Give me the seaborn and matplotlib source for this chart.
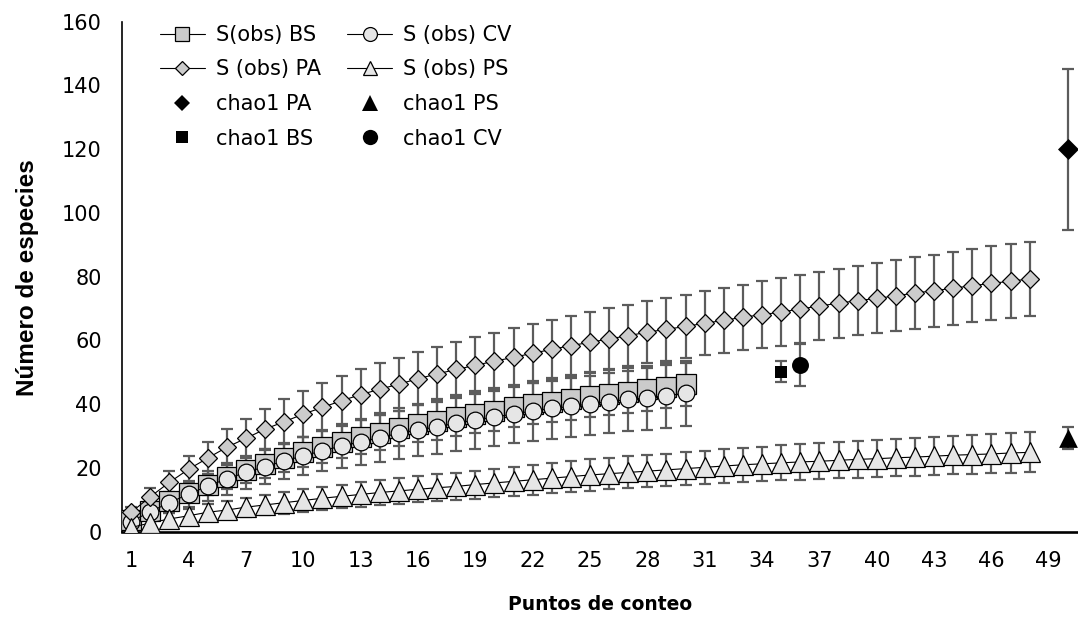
import matplotlib
matplotlib.use("Agg")
import matplotlib.pyplot as plt
import seaborn as sns
from matplotlib.lines import Line2D

# ---------------- data ----------------
puntos_48 = list(range(1, 49))
puntos_30 = list(range(1, 31))

s_obs_pa = [6.1, 11.0, 15.5, 19.6, 23.1, 26.5, 29.3, 32.2, 34.5, 36.9,
            39.0, 41.1, 43.0, 44.7, 46.3, 48.0, 49.5, 50.9, 52.2, 53.5,
            54.7, 56.0, 57.2, 58.4, 59.4, 60.5, 61.5, 62.6, 63.5, 64.4,
            65.4, 66.3, 67.3, 68.1, 68.9, 69.9, 70.8, 71.7, 72.5, 73.2,
            74.0, 74.9, 75.6, 76.4, 77.2, 77.9, 78.6, 79.3]
sd_pa = [1.7, 2.8, 3.6, 4.2, 5.1, 5.6, 6.2, 6.4, 7.0, 7.2,
         7.5, 7.7, 8.0, 8.1, 8.3, 8.3, 8.4, 8.6, 8.8, 8.9,
         9.1, 9.2, 9.2, 9.3, 9.4, 9.6, 9.6, 9.8, 9.8, 10.0,
         10.1, 10.2, 10.2, 10.4, 10.6, 10.6, 10.7, 10.8, 10.9, 11.0,
         11.1, 11.2, 11.3, 11.4, 11.5, 11.6, 11.6, 11.7]

s_obs_ps = [1.3, 2.8, 4.0, 5.0, 6.1, 6.8, 7.7, 8.4, 9.1, 9.8,
            10.5, 11.1, 11.7, 12.3, 12.8, 13.3, 13.8, 14.2, 14.8, 15.3,
            15.8, 16.3, 16.8, 17.3, 17.8, 18.2, 18.6, 19.0, 19.4, 19.8,
            20.2, 20.6, 21.0, 21.3, 21.6, 21.9, 22.1, 22.4, 22.7, 22.9,
            23.2, 23.4, 23.7, 24.0, 24.2, 24.4, 24.7, 24.9]
sd_ps = [0.8, 1.4, 1.8, 2.2, 2.5, 2.8, 3.0, 3.2, 3.4, 3.5,
         3.6, 3.7, 3.8, 3.9, 4.0, 4.1, 4.2, 4.3, 4.4, 4.5,
         4.6, 4.7, 4.8, 4.8, 4.9, 4.9, 5.0, 5.0, 5.1, 5.1,
         5.2, 5.2, 5.3, 5.4, 5.5, 5.6, 5.6, 5.7, 5.7, 5.8,
         5.8, 5.9, 6.0, 6.0, 6.1, 6.1, 6.2, 6.3]

s_obs_bs = [3.8, 6.5, 9.5, 12.2, 14.7, 17.2, 19.4, 21.2, 23.1, 25.0,
            26.7, 28.1, 29.7, 31.1, 32.4, 33.8, 34.8, 36.0, 37.0, 37.9,
            39.1, 40.1, 40.8, 41.7, 42.5, 43.3, 43.9, 44.7, 45.5, 46.2]
sd_bs = [1.0, 1.8, 2.4, 2.9, 3.3, 3.7, 4.0, 4.3, 4.5, 4.8,
         5.0, 5.1, 5.3, 5.5, 5.6, 5.8, 5.9, 6.0, 6.1, 6.2,
         6.3, 6.4, 6.4, 6.5, 6.5, 6.6, 6.6, 6.7, 6.7, 6.8]

s_obs_cv = [3.2, 6.3, 9.1, 11.8, 14.3, 16.6, 18.6, 20.4, 22.2, 23.8,
            25.4, 26.9, 28.2, 29.5, 30.9, 31.9, 32.9, 34.1, 35.0, 36.0,
            36.9, 37.9, 38.7, 39.3, 40.1, 40.8, 41.5, 42.0, 42.7, 43.4]
sd_cv = [1.3, 2.4, 3.3, 4.0, 4.6, 5.0, 5.3, 5.4, 5.7, 6.0,
         6.4, 6.8, 7.2, 7.6, 8.0, 8.3, 8.6, 8.8, 9.0, 9.1,
         9.2, 9.4, 9.5, 9.6, 9.7, 9.8, 9.9, 10.0, 10.1, 10.3]

chao1_labels = ["chao1 PA", "chao1 PS", "chao1 BS", "chao1 CV"]
chao1_x = [50, 50, 35, 36]
chao1_y = [120.0, 29.3, 50.2, 52.3]
chao1_sd = [25.3, 3.4, 3.2, 6.7]

x_tick_labels = [str(v) for v in range(1, 50, 3)]
y_ticks = [0, 20, 40, 60, 80, 100, 120, 140, 160]

# ---------------- style ----------------
sns.set_style("white")
plt.rcParams["font.family"] = ["DejaVu Sans"]
plt.rcParams["text.color"] = "black"
plt.rcParams["axes.labelcolor"] = "black"
plt.rcParams["xtick.color"] = "black"
plt.rcParams["ytick.color"] = "black"

fig = plt.figure(figsize=(10.78, 6.21), dpi=100)
ax = fig.add_axes([0.1129, 0.1438, 0.8866, 0.8212])

ECOL = "#5c5c5c"
eb_kw = dict(fmt="none", ecolor=ECOL, elinewidth=1.6, capsize=4.6,
             capthick=1.6, zorder=1.5)

# error bars
ax.errorbar(puntos_30, s_obs_bs, yerr=sd_bs, **eb_kw)
ax.errorbar(puntos_30, s_obs_cv, yerr=sd_cv, **eb_kw)
ax.errorbar(puntos_48, s_obs_pa, yerr=sd_pa, **eb_kw)
ax.errorbar(puntos_48, s_obs_ps, yerr=sd_ps, **eb_kw)
ax.errorbar(chao1_x, chao1_y, yerr=chao1_sd, **eb_kw)

# observed curves
line_kw = dict(color="black", linewidth=0.8, markeredgecolor="black",
               markeredgewidth=0.9, errorbar=None, legend=False)
sns.lineplot(x=puntos_30, y=s_obs_bs, ax=ax, marker="s", markersize=14,
             markerfacecolor="#cbcbcb", zorder=3, **line_kw)
sns.lineplot(x=puntos_30, y=s_obs_cv, ax=ax, marker="o", markersize=12,
             markerfacecolor="#e6e6e6", zorder=4, **line_kw)
sns.lineplot(x=puntos_48, y=s_obs_pa, ax=ax, marker="D", markersize=9,
             markerfacecolor="#cccccc", zorder=5, **line_kw)
sns.lineplot(x=puntos_48, y=s_obs_ps, ax=ax, marker="^", markersize=14,
             markerfacecolor="#e6e6e6", zorder=6, **line_kw)

# chao1 estimates
chao_markers = ["D", "^", "s", "o"]
chao_sizes = [10.7, 13.5, 8.6, 12.2]
for xv, yv, mk, ms in zip(chao1_x, chao1_y, chao_markers, chao_sizes):
    sns.scatterplot(x=[xv], y=[yv], ax=ax, marker=mk, s=ms ** 2,
                    color="black", edgecolor="black", linewidth=0,
                    zorder=7, legend=False)

# ---------------- axes ----------------
ax.set_xlim(0.5, 50.5)
ax.set_ylim(0, 160)
ax.set_yticks(y_ticks)
ax.set_yticklabels([str(v) for v in y_ticks])
ax.set_xticks([0.5 + 3 * i for i in range(17)])
ax.set_xticklabels([])
ax.set_xticks(list(range(1, 50, 3)), minor=True)
ax.set_xticklabels(x_tick_labels, minor=True)

for s in ["top", "right"]:
    ax.spines[s].set_visible(False)
ax.spines["left"].set_linewidth(1.2)
ax.spines["left"].set_color("black")
ax.spines["bottom"].set_linewidth(1.9)
ax.spines["bottom"].set_color("black")

ax.tick_params(axis="y", which="major", direction="inout", length=11.5,
               width=1.1, color="black", labelsize=15, pad=8.6,
               labelcolor="black")
ax.tick_params(axis="x", which="major", direction="inout", length=11.5,
               width=1.1, color="black")
ax.tick_params(axis="x", which="minor", length=0, labelsize=15, pad=14,
               labelcolor="black")

ax.set_xlabel("Puntos de conteo", fontsize=13.5, fontweight="bold",
              va="center", color="black")
ax.xaxis.set_label_coords(0.5, -0.1437)
ax.set_ylabel("Número de especies", fontsize=17.5, fontweight="bold",
              family=["Liberation Sans", "DejaVu Sans"], va="center",
              color="black")
ax.yaxis.set_label_coords(-0.0986, 0.498)

# ---------------- legend ----------------
def obs_handle(mk, ms, fc):
    return Line2D([], [], color="black", lw=0.8, marker=mk, ms=ms,
                  mfc=fc, mec="black", mew=0.9)

def chao_handle(mk, ms):
    return Line2D([], [], color="none", lw=0, marker=mk, ms=ms,
                  mfc="black", mec="black", mew=0)

handles = [obs_handle("s", 10, "#cbcbcb"), obs_handle("D", 7.5, "#cccccc"),
           chao_handle("D", 7.7), chao_handle("s", 8),
           obs_handle("o", 10, "#e6e6e6"), obs_handle("^", 10.5, "#e6e6e6"),
           chao_handle("^", 11), chao_handle("o", 11)]
labels = ["S(obs) BS", "S (obs) PA", chao1_labels[0], chao1_labels[2],
          "S (obs) CV", "S (obs) PS", chao1_labels[1], chao1_labels[3]]
leg = ax.legend(handles, labels, ncol=2, loc="upper left",
                bbox_to_anchor=(0.040, 0.994), frameon=False, fontsize=15,
                handlelength=2.15, handletextpad=0.55, columnspacing=1.25,
                labelspacing=0.70, borderpad=0, borderaxespad=0)
for t in leg.get_texts():
    t.set_color("black")

fig.savefig("out.png", dpi=100)
